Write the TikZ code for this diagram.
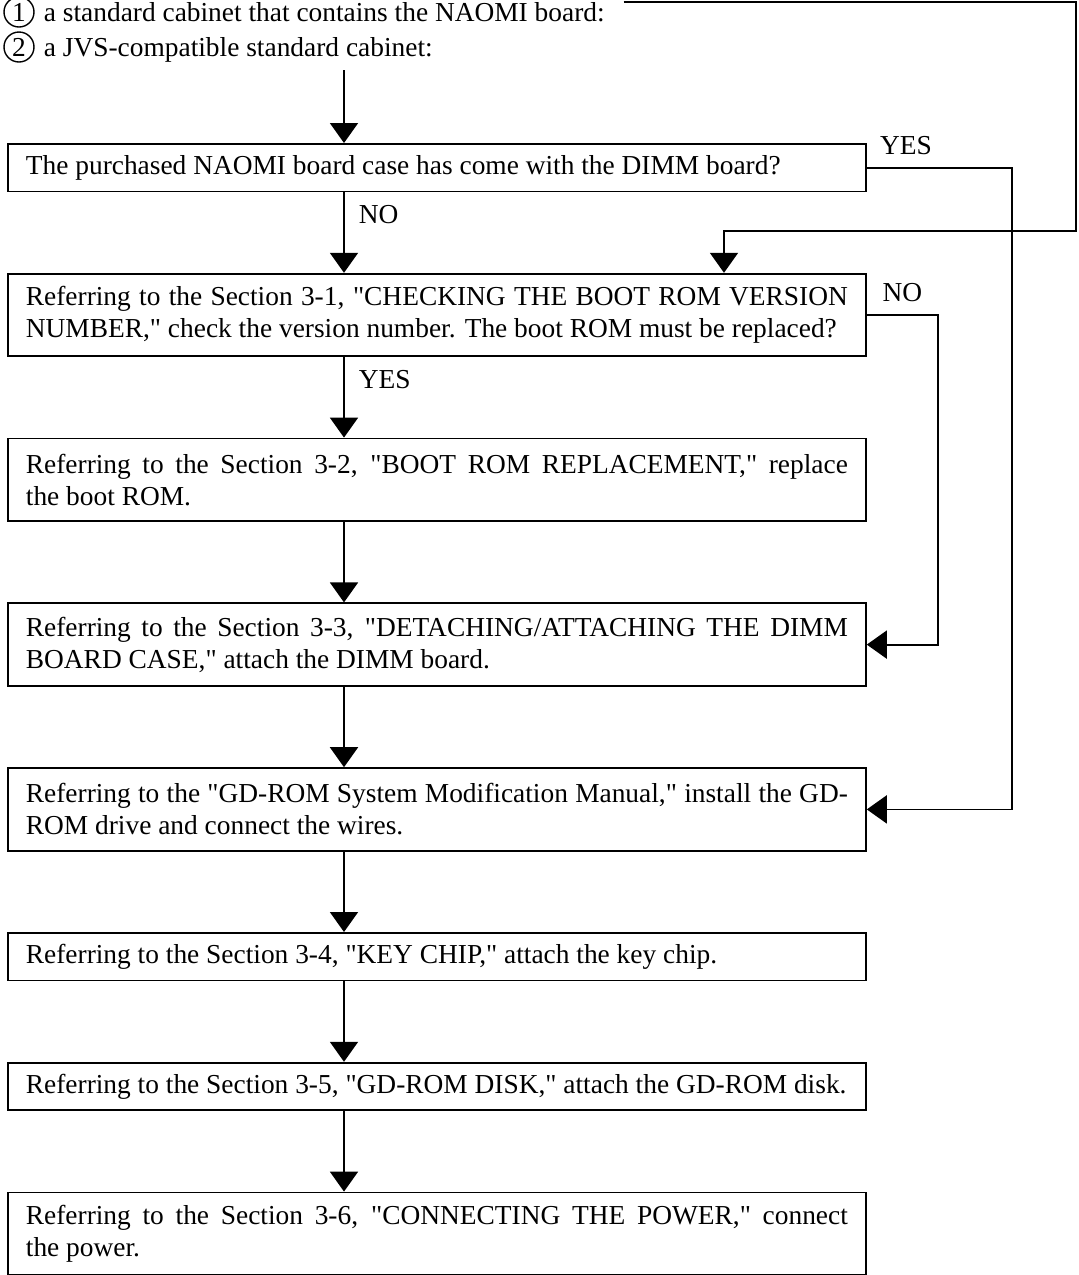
\documentclass[tikz,border=0pt]{standalone}
\usepackage{fontspec}
\setmainfont{Liberation Serif}[Ligatures=TeXOff]
\usetikzlibrary{positioning,arrows.meta}

\begin{document}
\begin{tikzpicture}[x=0.5pt, y=-0.5pt, line width=0.9pt,
    box/.style={draw, minimum width=429pt, text width=411pt, inner xsep=9pt,
        align=justify, font=\fontsize{13.7pt}{16pt}\selectfont},
    onebox/.style={box, minimum height=23.8pt},
    twobox/.style={box, minimum height=41.3pt},
    flow/.style={-{Triangle[width=14pt,length=10pt]}},
    lbl/.style={font=\fontsize{13.7pt}{16pt}\selectfont, inner sep=1pt},
    num/.style={draw, circle, line width=0.7pt, minimum size=15pt, inner sep=0pt,
        font=\fontsize{13.7pt}{16pt}\selectfont}]
    % 枠
    \useasboundingbox (0,0) rectangle (1078,1275);
    % 条件（丸数字）
    \node[num] (n1) at (19,12) {1};
    \node[num] (n2) at (19,47) {2};
    \node[lbl, anchor=base west] (one) at (41,21) {a standard cabinet that contains the NAOMI board:};
    \node[lbl, anchor=base west] (two) at (41,56) {a JVS-compatible standard cabinet:};
    % 手順の箱
    \node[onebox, anchor=north west] (dimm) at (7,143)
        {The purchased NAOMI board case has come with the DIMM board?};
    \node[twobox, below=40.2pt of dimm] (check)
        {Referring to the Section 3-1, "CHECKING THE BOOT ROM VERSION\linebreak
         NUMBER," check the version number. The boot ROM must be replaced?};
    \node[twobox, below=40.2pt of check] (rom)
        {Referring to the Section 3-2, "BOOT ROM REPLACEMENT," replace\linebreak
         the boot ROM.};
    \node[twobox, below=40.2pt of rom] (attach)
        {Referring to the Section 3-3, "DETACHING/ATTACHING THE DIMM\linebreak
         BOARD CASE," attach the DIMM board.};
    \node[twobox, below=40.2pt of attach] (gdrom)
        {Referring to the "GD-ROM System Modification Manual," install the GD-\linebreak
         ROM drive and connect the wires.};
    \node[onebox, below=40.2pt of gdrom] (key)
        {Referring to the Section 3-4, "KEY CHIP," attach the key chip.};
    \node[onebox, below=40.2pt of key] (disk)
        {Referring to the Section 3-5, "GD-ROM DISK," attach the GD-ROM disk.};
    \node[twobox, below=40.2pt of disk] (power)
        {Referring to the Section 3-6, "CONNECTING THE POWER," connect\linebreak
         the power.};
    % 縦の矢印
    \coordinate (start) at (344,70);
    \draw[flow] (start) -- (start |- dimm.north);
    \draw[flow] (start |- dimm.south) -- node[lbl, pos=0.28, right=6pt] {NO} (start |- check.north);
    \draw[flow] (start |- check.south) -- node[lbl, pos=0.28, right=6pt] {YES} (start |- rom.north);
    \foreach \a/\b in {rom/attach, attach/gdrom, gdrom/key, key/disk, disk/power}
        \draw[flow] (start |- \a.south) -- (start |- \b.north);
    % 分岐（右側）
    \draw[flow] (dimm.east) -- node[lbl, pos=0.27, above=5pt] {YES} ++(145,0) |- (gdrom.east);
    \draw[flow] (check.east) -- node[lbl, pos=0.5, above=5pt] {NO} ++(71,0) |- (attach.east);
    % 1 からの戻り線
    \coordinate (loop) at (1076,231);
    \coordinate (entry) at (724,231);
    \draw[flow] ([xshift=8pt, yshift=5pt]one.east) -| (loop) -- (entry) -- (entry |- check.north);
\end{tikzpicture}
\end{document}
